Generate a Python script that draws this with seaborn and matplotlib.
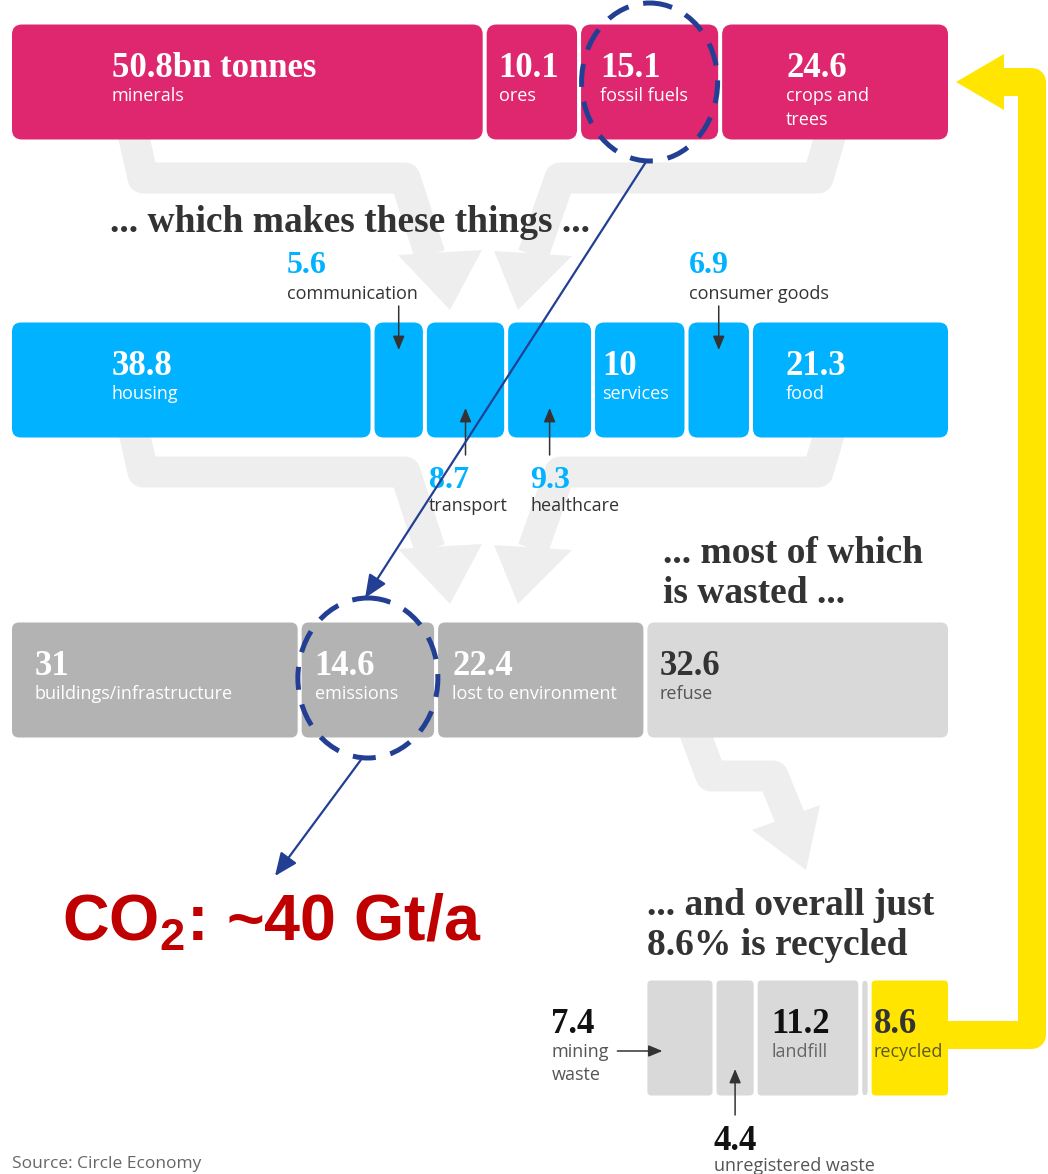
import numpy as np
import matplotlib
matplotlib.use("Agg")
import matplotlib.pyplot as plt
from matplotlib.patches import FancyBboxPatch, Ellipse, Polygon
import seaborn as sns

# ---- data: bn tonnes per year ----
source_names = ["minerals", "ores", "fossil fuels", "crops and\ntrees"]
source_values = [50.8, 10.1, 15.1, 24.6]

product_names = ["housing", "communication", "transport", "healthcare",
                 "services", "consumer goods", "food"]
product_values = [38.8, 5.6, 8.7, 9.3, 10, 6.9, 21.3]

fate_names = ["buildings/infrastructure", "emissions", "lost to environment", "refuse"]
fate_values = [31, 14.6, 22.4, 32.6]

waste_names = ["mining\nwaste", "unregistered waste", "landfill", "", "recycled"]
waste_values = [7.4, 4.4, 11.2, 1.0, 8.6]

headings = ["... which makes these things ...",
            "... most of which\nis wasted ...",
            "... and overall just\n8.6% is recycled"]
co2_label = r"CO$_\mathbf{2}$: ~40 Gt/a"
source_note = "Source: Circle Economy"

# ---- layout / style ----
W, H = 1048, 1174
X0 = 10                               # pixel where value 0 sits
PPU = 940 / sum(source_values)        # pixels per bn tonnes
ROW_Y = [82, 380, 680, 1038]
BAR_H = 115

MAGENTA = "#de276e"
BLUE = "#00b2ff"
DARK = "#b3b3b3"
LIGHT = "#d9d9d9"
YELLOW = "#ffe500"
ARROW_GREY = "#eeeeee"
NAVY = "#233f94"
INK = "#333333"

SERIF = "Liberation Serif"
SANS = "Open Sans"
NUM_SIZE = 25

sns.set_theme(style="white")
plt.rcParams["font.family"] = ["Open Sans", "DejaVu Sans"]
plt.rcParams["mathtext.fontset"] = "custom"
plt.rcParams["mathtext.rm"] = "Liberation Sans:bold"
plt.rcParams["mathtext.bf"] = "Liberation Sans:bold"

fig = plt.figure(figsize=(W / 100, H / 100), dpi=100)
fig.patch.set_facecolor("white")


def pixel_axes(z):
    a = fig.add_axes([0, 0, 1, 1], zorder=z)
    a.set_xlim(0, W)
    a.set_ylim(H, 0)
    a.axis("off")
    a.patch.set_visible(False)
    return a


bg = pixel_axes(0)
ax = fig.add_axes([0, 0, 1, 1], zorder=1)
ax.set_xlim(-X0 / PPU, (W - X0) / PPU)
ax.set_ylim(H, 0)
ax.axis("off")
ax.patch.set_visible(False)
fg = pixel_axes(2)


def put(axis, x, y, s, size, color, family, weight="normal", pitch=24):
    for k, line in enumerate(s.split("\n")):
        axis.text(x, y + k * pitch, line, fontsize=size, color=color,
                  family=family, weight=weight, ha="left", va="baseline")


def draw_row(values, y, colors, left0=0.0, radius=7, gap=4):
    lefts = left0 + np.concatenate([[0], np.cumsum(values)[:-1]])
    bars = ax.barh(y, values, left=lefts, height=BAR_H, color=colors)
    g = gap / 2 / PPU
    for rect in bars:
        rect.set_visible(False)
        ax.add_patch(FancyBboxPatch(
            (rect.get_x() + g, rect.get_y()), rect.get_width() - 2 * g, rect.get_height(),
            boxstyle=f"round,pad=0,rounding_size={radius / PPU}",
            mutation_aspect=PPU, fc=rect.get_facecolor(), ec="none", zorder=2))
    return lefts


def bar_label(left, y, number, name, dx, num_color="white", name_color="white"):
    x = left + dx / PPU
    put(ax, x, y - 5, number, NUM_SIZE, num_color, SERIF, "bold")
    put(ax, x, y + 19, name, 13, name_color, SANS)


def small_arrow(x0, y0, x1, y1):
    ax.annotate("", xy=(x1, y1), xytext=(x0, y0),
                arrowprops=dict(arrowstyle="-|>,head_length=0.6,head_width=0.25",
                                color=INK, lw=1.1, shrinkA=0, shrinkB=0,
                                mutation_scale=14), zorder=4)


def fmt(v):
    return f"{v:g}"


# ---- background flow arrows ----
def flow(path, head, dy=0, color=ARROW_GREY, width_px=31):
    xs, ys = zip(*path)
    bg.plot(xs, np.array(ys) + dy, color=color, lw=width_px * 0.72,
            solid_joinstyle="round", solid_capstyle="butt")
    bg.add_patch(Polygon([(hx, hy + dy) for hx, hy in head], closed=True,
                         fc=color, ec="none"))


left_flow = ([(130, 120), (143, 178), (405, 178), (430, 255)],
             [(398, 255), (482, 250), (450, 310)])
right_flow = ([(835, 120), (818, 178), (560, 178), (533, 255)],
              [(494, 251), (572, 256), (518, 310)])
for dy in (0, 294):
    flow(*left_flow, dy=dy)
    flow(*right_flow, dy=dy)
flow([(692, 725), (711, 776), (773, 776), (790, 818)],
     [(752, 830), (820, 805), (806, 870)])
flow([(940, 1035), (1032, 1035), (1032, 82), (1000, 82)],
     [(1004, 54), (1004, 110), (956, 82)], color=YELLOW, width_px=28)

# ---- row 1: raw materials ----
lefts1 = draw_row(source_values, ROW_Y[0], [MAGENTA] * 4, radius=10)
for i, dx in enumerate([102, 14, 21, 66]):
    num = fmt(source_values[i]) + ("bn tonnes" if i == 0 else "")
    bar_label(lefts1[i], ROW_Y[0], num, source_names[i], dx)

# ---- row 2: products ----
lefts2 = draw_row(product_values, ROW_Y[1], [BLUE] * 7, radius=9)
for i, dx in [(0, 102), (4, 9), (6, 35)]:
    bar_label(lefts2[i], ROW_Y[1], fmt(product_values[i]), product_names[i], dx)
for i, dx in [(1, -86), (5, 2)]:                       # labels above
    x = lefts2[i] + dx / PPU
    put(ax, x, 273, fmt(product_values[i]), 23, BLUE, SERIF, "bold")
    put(ax, x, 299, product_names[i], 13, INK, SANS)
    cx = lefts2[i] + product_values[i] / 2
    small_arrow(cx, 306, cx, 350)
for i, dx in [(2, 4), (3, 24)]:                        # labels below
    x = lefts2[i] + dx / PPU
    put(ax, x, 488, fmt(product_values[i]), 23, BLUE, SERIF, "bold")
    put(ax, x, 511, product_names[i], 13, INK, SANS)
    cx = lefts2[i] + product_values[i] / 2
    small_arrow(cx, 455, cx, 408)

# ---- row 3: where it ends up ----
lefts3 = draw_row(fate_values, ROW_Y[2], [DARK, DARK, DARK, LIGHT], radius=7)
for i, dx in enumerate([25, 15, 16, 14]):
    light = fate_values[i] == fate_values[-1]
    bar_label(lefts3[i], ROW_Y[2], fmt(fate_values[i]), fate_names[i], dx,
              num_color=INK if light else "white",
              name_color="#555555" if light else "white")

# ---- row 4: refuse breakdown ----
lefts4 = draw_row(waste_values, ROW_Y[3], [LIGHT] * 4 + [YELLOW],
                  left0=sum(fate_values[:3]), radius=4)
bar_label(lefts4[2], ROW_Y[3], fmt(waste_values[2]), waste_names[2], 16,
          num_color="#111111", name_color="#666666")
bar_label(lefts4[4], ROW_Y[3], fmt(waste_values[4]), waste_names[4], 4,
          num_color=INK, name_color="#5c5a1e")
x = lefts4[0] - 94 / PPU
put(ax, x, 1033, fmt(waste_values[0]), NUM_SIZE, "#111111", SERIF, "bold")
put(ax, x, 1057, waste_names[0], 13, "#555555", SANS, pitch=23)
small_arrow(lefts4[0] - 28 / PPU, 1051, lefts4[0] + 17 / PPU, 1051)
x = lefts4[1] - 1 / PPU
put(ax, x, 1150, fmt(waste_values[1]), NUM_SIZE, "#111111", SERIF, "bold")
put(ax, x, 1171, waste_names[1], 13, "#555555", SANS)
cx = lefts4[1] + waste_values[1] / 2
small_arrow(cx, 1115, cx, 1069)

# ---- headings ----
put(fg, 110, 232, headings[0], 27, INK, SERIF, "bold")
put(fg, 663, 563, headings[1], 27, INK, SERIF, "bold", pitch=40)
put(fg, 647, 915, headings[2], 27, INK, SERIF, "bold", pitch=40)
put(fg, 12, 1168, source_note, 12.5, "#666666", SANS)

# ---- fossil fuels -> emissions -> CO2 annotation ----
fossil_c = lefts1[2] + source_values[2] / 2
emis_c = lefts3[1] + fate_values[1] / 2
dash = (0, (4.6, 3.0))
ax.add_patch(Ellipse((fossil_c, ROW_Y[0]), 136 / PPU, 158, fill=False,
                     ec=NAVY, lw=3.6, ls=dash, zorder=5))
ax.add_patch(Ellipse((emis_c, ROW_Y[2] - 2), 140 / PPU, 160, fill=False,
                     ec=NAVY, lw=3.6, ls=dash, zorder=5))
navy_head = dict(arrowstyle="-|>,head_length=0.7,head_width=0.3", color=NAVY,
                 lw=1.6, shrinkA=0, shrinkB=0, mutation_scale=20)
ax.annotate("", xy=(emis_c - 0.3, 598), xytext=(fossil_c - 0.4, 162),
            arrowprops=navy_head, zorder=5)
ax.annotate("", xy=(275, 876), xycoords=fg.transData,
            xytext=(emis_c - 0.6, 758), textcoords="data",
            arrowprops=navy_head, zorder=5)
fg.text(62, 940, co2_label, fontsize=46.5, color="#c00000",
        family="Liberation Sans", weight="bold", ha="left", va="baseline")

fig.savefig("out.png", dpi=100, facecolor="white")
